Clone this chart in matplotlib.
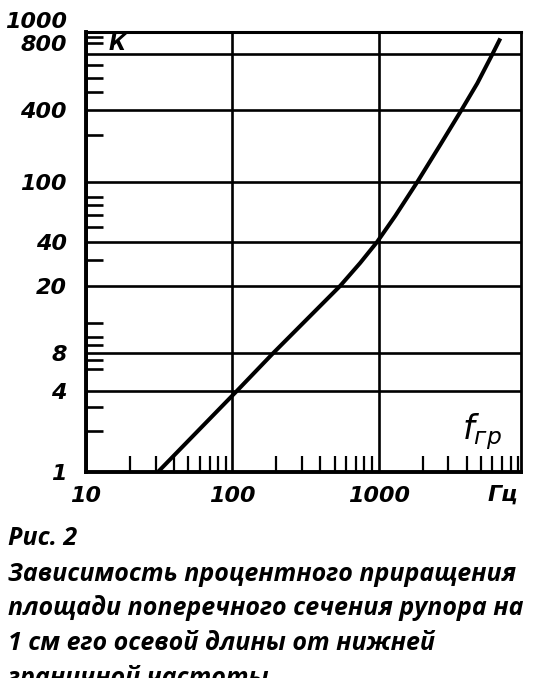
import numpy as np
import matplotlib
matplotlib.use('Agg')
import matplotlib.pyplot as plt
import matplotlib.transforms as mtransforms

# ====================== Data ======================
# K, % per 1 cm of horn length vs lower cut-off frequency f_гр, Hz
K_FREQ = [31, 108, 190, 546, 748, 977, 1299, 1837, 2636, 3673, 4725, 5980, 6790]
K_VAL = [1, 4, 8, 20, 28.7, 40, 59.5, 100, 205, 400, 559, 800, 938]

X_MAJOR = [10, 100, 1000]
X_LABELS = ['10', '100', '1000']
X_MINOR = [20, 30, 40, 50, 60, 70, 80, 90,
           200, 300, 400, 500, 600, 700, 800, 900,
           2000, 3000, 4000, 5000, 6000, 7000, 8000, 9000]

Y_MAJOR = [1, 4, 8, 20, 40, 100, 400, 800, 1000]
Y_LABELS = ['1', '4', '8', '20', '40', '100', '400', '800', '1000']
Y_MINOR = [2, 3, 6, 7, 9, 10, 12, 30, 50, 60, 70, 80, 250, 500, 600, 700, 900, 950]

CAPTION = ['Рис. 2',
           'Зависимость процентного приращения',
           'площади поперечного сечения рупора на',
           '1 см его осевой длины от нижней',
           'граничной частоты']

# printed graph paper is not a true log grid: relative height of each ruled line
PAPER_K = [1, 4, 8, 20, 40, 100, 400, 800, 1000]
PAPER_POS = [0, 0.185, 0.270, 0.423, 0.523, 0.659, 0.822, 0.949, 1.0]


def paper_fwd(y):
    y = np.clip(np.asarray(y, dtype=float), 1e-6, None)
    return np.interp(np.log10(y), np.log10(PAPER_K), PAPER_POS)


def paper_inv(p):
    return 10 ** np.interp(p, PAPER_POS, np.log10(PAPER_K))


# =========== Init settings ===========
fig = plt.figure(figsize=(5.34, 6.78), dpi=100)
ax = fig.add_axes([86 / 534, 206 / 678, 435 / 534, 440 / 678])

lbl_font = dict(family='DejaVu Sans', weight='bold', style='italic', size=16)

ax.set_xscale('log')
ax.set_yscale('function', functions=(paper_fwd, paper_inv))
ax.set_xlim(10, 9400)
ax.set_ylim(1, 1000)

# ====================== Grid and ticks ======================
ax.set_xticks(X_MAJOR, X_LABELS)
ax.set_xticks(X_MINOR, minor=True)
ax.set_yticks(Y_MAJOR, Y_LABELS)
ax.set_yticks(Y_MINOR, minor=True)
ax.xaxis.set_minor_formatter(plt.NullFormatter())
ax.yaxis.set_minor_formatter(plt.NullFormatter())

ax.grid(True, which='major', color='black', linewidth=1.9)
ax.tick_params(which='major', length=0)
ax.tick_params(axis='x', which='major', pad=10)
ax.tick_params(axis='y', which='major', pad=14)
ax.tick_params(axis='x', which='minor', direction='in', length=11.5, width=1.6, color='black')
ax.tick_params(axis='y', which='minor', direction='in', length=12, width=1.9, color='black')

for lab in ax.get_xticklabels() + ax.get_yticklabels():
    lab.set_fontfamily(lbl_font['family'])
    lab.set_fontweight('bold')
    lab.set_fontstyle('italic')
    lab.set_fontsize(lbl_font['size'])

# 800 and 1000 are lettered higher than their lines on the original
for tick, dy in zip(ax.yaxis.get_major_ticks()[-2:], [8, 9]):
    lab = tick.label1
    lab.set_transform(lab.get_transform() + mtransforms.ScaledTranslation(0, dy / 72, fig.dpi_scale_trans))

for side, lw in [('left', 2.8), ('bottom', 2.8), ('top', 2.2), ('right', 2.0)]:
    ax.spines[side].set_linewidth(lw)
    ax.spines[side].set_color('black')

# ====================== Curve ======================
ax.plot(K_FREQ, K_VAL, color='black', linewidth=2.9, solid_capstyle='butt',
        solid_joinstyle='round', zorder=3)

# ====================== Lettering ======================
ax.text(0.071, 0.972, 'К', transform=ax.transAxes, ha='center', va='center', **dict(lbl_font, size=15))
ax.text(0.91, 0.092, r'$\mathit{f}_{\mathit{гр}}$', transform=ax.transAxes,
        ha='center', va='center', fontsize=24)
ax.text(0.959, -0.052, 'Гц', transform=ax.transAxes, ha='center', va='center', **lbl_font)

cap_font = dict(family=['Open Sans', 'DejaVu Sans'], weight='bold', style='italic', size=18)
for line, base in zip(CAPTION, [545, 581, 615, 650, 685]):
    fig.text(8 / 534, 1 - base / 678, line, ha='left', va='baseline', **cap_font)

fig.savefig('out.png', dpi=100)
